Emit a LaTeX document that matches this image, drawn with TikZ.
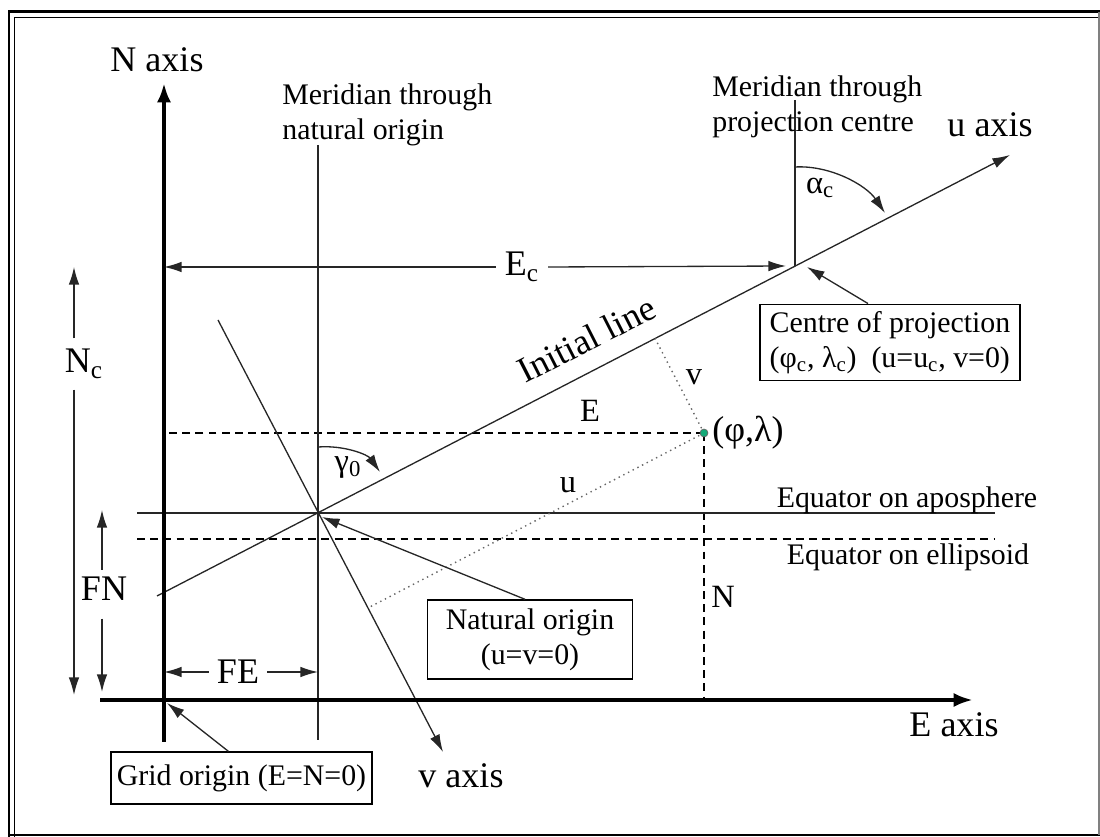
\documentclass[tikz,border=0pt]{standalone}
\usepackage{fontspec}
\setmainfont{Liberation Serif}
\usetikzlibrary{arrows.meta,calc,positioning}

\definecolor{dotgreen}{RGB}{20,170,120}
\tikzset{
  >={Latex[length=10pt,width=6pt]},
  thinln/.style={line width=0.75pt,black!85},
  axisln/.style={line width=2.3pt,-{Latex[length=11pt,width=8pt]}},
  dashln/.style={line width=0.75pt,dash pattern=on 4.5pt off 3pt},
  dotln/.style={line width=0.8pt,black!60,dash pattern=on 0.8pt off 2.2pt},
  callout/.style={draw,line width=0.75pt,align=center,font=\fontsize{17}{20}\selectfont},
  lbl/.style={inner sep=0pt,font=\fontsize{17}{20.4}\selectfont},
  biglbl/.style={inner sep=0pt,font=\fontsize{20.5}{24}\selectfont},
  midlbl/.style={inner sep=0pt,font=\fontsize{18.5}{22}\selectfont},
}

\begin{document}
\begin{tikzpicture}[x=0.02cm,y=-0.02cm]
  \useasboundingbox (0,0) rectangle (1100,837);
  % frame
  \draw[line width=1.7pt] (9,837) -- (9,12) -- (1100,12);
  \draw[line width=0.85pt] (14.5,837) -- (14.5,17.5) -- (1100,17.5);
  \draw[line width=1.7pt] (9,835) -- (1100,835);
  \draw[black!50,line width=0.6pt] (1099,12) -- (1099,835);

  \coordinate (G) at (164,700);
  \coordinate (O) at (318,513);
  \coordinate (C) at (795,266);
  \coordinate (P) at (704,433);
  \coordinate (ubeg) at (157,596);
  \coordinate (utip) at (1010,155);
  \coordinate (vbeg) at (218,320);
  \coordinate (vtip) at (443,752);

  % equators and dashed E, N
  \draw[dashln] (P) -- (P -| G);
  \draw[dashln] (P) -- (P |- G);
  \draw[dashln] (137,539) -- (995,539);
  \draw[thinln] (137,513) -- (995,513);

  % meridians
  \draw[thinln] (318,145) -- (318,740);
  \draw[thinln] (795,100) -- (C);

  % u and v axes
  \draw[thinln,->] (ubeg) -- (utip);
  \draw[thinln,->] (vbeg) -- (vtip);
  \draw[dotln] (P) -- ($(ubeg)!(P)!(utip)$);
  \draw[dotln] (P) -- ($(vbeg)!(P)!(vtip)$);

  % grid axes
  \draw[axisln] (164,742) -- (164,83);
  \draw[axisln] (100,700) -- (973,700);

  \node[biglbl,anchor=base] (naxis) at (157,72) {N axis};
  \node[biglbl,anchor=base] (eaxis) at (954,737) {E axis};
  \node[biglbl,anchor=base] (uaxis) at (990,137) {u axis};
  \node[biglbl,anchor=base] (vaxis) at (461,788) {v axis};

  \node[lbl,align=left,anchor=north west] (mnat) at (282,83) {Meridian through\\natural origin};
  \node[lbl,align=left,anchor=north west] (mproj) at (712,75) {Meridian through\\projection centre};

  % false origin and centre offsets
  \node[biglbl,inner xsep=5pt] (Ec) at (522,267) {E\textsubscript{c}};
  \draw[thinln,->] (Ec.west) -- (Ec.west -| G);
  \draw[thinln,->] (Ec.east) -- ($(C)+(-9,0)$);

  \coordinate (nctop) at (74,267);
  \coordinate (ncbot) at (74,695);
  \node[biglbl,inner ysep=6pt] (Nc) at (84,364) {N\textsubscript{c}};
  \draw[thinln,->] (Nc.north -| nctop) -- (nctop);
  \draw[thinln,->] (Nc.south -| ncbot) -- (ncbot);

  \coordinate (fntop) at (102,510);
  \coordinate (fnbot) at (102,692);
  \node[biglbl,inner ysep=4pt] (FN) at (104,589) {FN};
  \draw[thinln,->] (FN.north -| fntop) -- (fntop);
  \draw[thinln,->] ([yshift=-6pt]FN.south -| fnbot) -- (fnbot);

  \node[biglbl,inner xsep=4.5pt] (FE) at (238,672) {FE};
  \draw[thinln,->] (FE.west) -- (FE.west -| G);
  \draw[thinln,->] (FE.east) -- (FE.east -| O);

  % point
  \node[circle,fill=dotgreen,draw=black!60,line width=0.4pt,inner sep=0pt,minimum size=4.5pt] (pt) at (P) {};
  \node[biglbl,anchor=west] (phil) at (712,433) {(φ,λ)};

  \node[midlbl,anchor=base] (Elbl) at (590,422) {E};
  \node[midlbl,anchor=base] (vlbl) at (694,385) {v};
  \node[midlbl,anchor=base] (ulbl) at (568,493) {u};
  \node[midlbl,anchor=base] (Nlbl) at (723,608) {N};
  \node[lbl,anchor=base] (eqap) at (907,508) {Equator on aposphere};
  \node[lbl,anchor=base] (eqel) at (908,565) {Equator on ellipsoid};
  \node[biglbl,anchor=base,rotate=27] (initl) at (592,350) {Initial line};

  % angles
  \draw[thinln,->] (318,447) .. controls (345,445) and (368,455) .. (380,472);
  \node[midlbl] (gam) at (348,468) {γ\textsubscript{0}};
  \draw[thinln,->] (795,167) .. controls (830,165) and (866,185) .. (885,213);
  \node[midlbl] (alp) at (820,188) {α\textsubscript{c}};

  % boxes
  \node[callout,align=left,inner xsep=5.5pt,inner ysep=4pt] (cbox) at (890,342.5)
    {Centre of projection\\(φ\textsubscript{c}, λ\textsubscript{c})\ \ (u=u\textsubscript{c}, v=0)};
  \node[callout,minimum width=117pt,minimum height=45pt] (nbox) at (530,639.5) {Natural origin\\(u=v=0)};
  \node[callout,minimum width=148pt,minimum height=29.5pt] (gbox) at (241.5,778) {Grid origin (E=N=0)};
  \draw[thinln,->] ($(cbox.north)+(-22,0)$) -- ($(C)+(12,1)$);
  \draw[thinln,->] ($(nbox.north)+(-5,0)$) -- ($(O)+(4,4)$);
  \draw[thinln,->] ($(gbox.north)+(-13,0)$) -- ($(G)+(3,3)$);
\end{tikzpicture}
\end{document}
